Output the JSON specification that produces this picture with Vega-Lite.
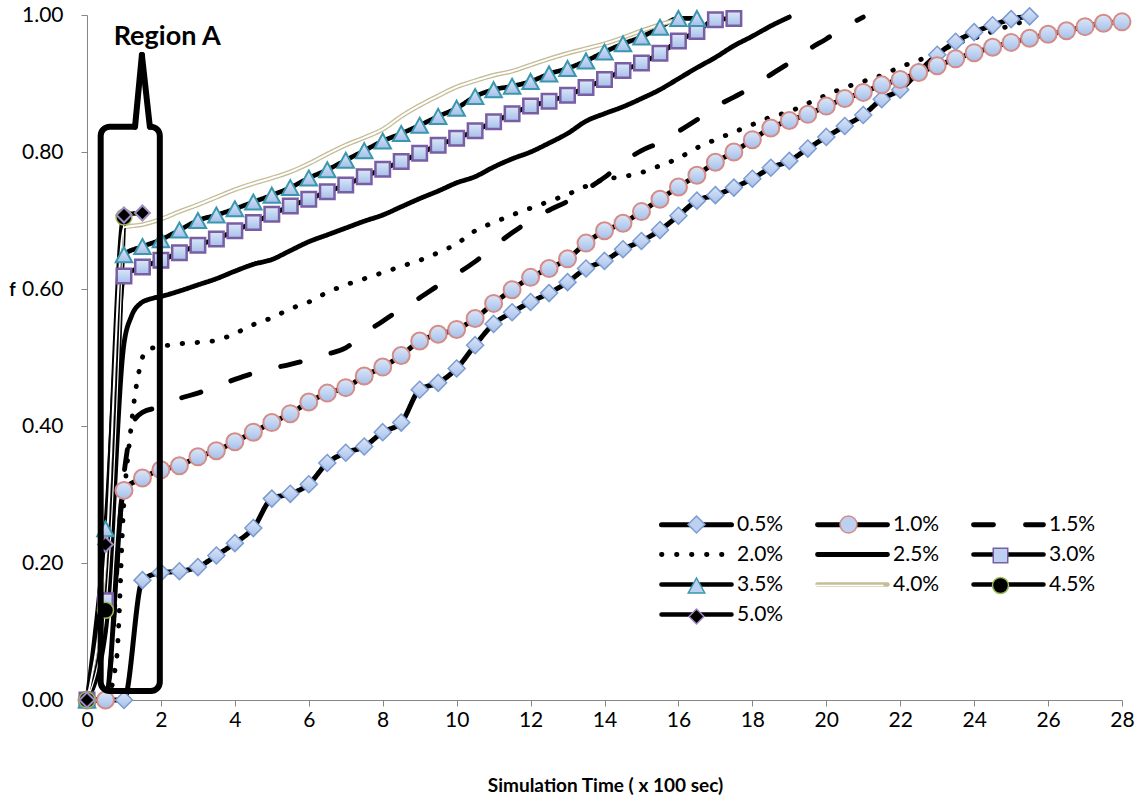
{
  "$schema": "https://vega.github.io/schema/vega-lite/v6.json",
  "width": 1035,
  "height": 685,
  "autosize": {"type": "none"},
  "padding": {"left": 87, "top": 15, "right": 18, "bottom": 99},
  "background": "white",
  "datasets": {
    "curves": [
      {"series":"0.5%","t":0,"f":0},{"series":"0.5%","t":0.5,"f":0},{"series":"0.5%","t":1,"f":0},{"series":"0.5%","t":1.5,"f":0.175},{"series":"0.5%","t":2,"f":0.186},{"series":"0.5%","t":2.5,"f":0.188},{"series":"0.5%","t":3,"f":0.194},{"series":"0.5%","t":3.5,"f":0.211},{"series":"0.5%","t":4,"f":0.229},{"series":"0.5%","t":4.5,"f":0.251},{"series":"0.5%","t":5,"f":0.294},{"series":"0.5%","t":5.5,"f":0.301},{"series":"0.5%","t":6,"f":0.315},{"series":"0.5%","t":6.5,"f":0.346},{"series":"0.5%","t":7,"f":0.361},{"series":"0.5%","t":7.5,"f":0.37},{"series":"0.5%","t":8,"f":0.391},{"series":"0.5%","t":8.5,"f":0.405},{"series":"0.5%","t":9,"f":0.453},{"series":"0.5%","t":9.5,"f":0.463},{"series":"0.5%","t":10,"f":0.484},{"series":"0.5%","t":10.5,"f":0.518},{"series":"0.5%","t":11,"f":0.549},{"series":"0.5%","t":11.5,"f":0.566},{"series":"0.5%","t":12,"f":0.581},{"series":"0.5%","t":12.5,"f":0.594},{"series":"0.5%","t":13,"f":0.61},{"series":"0.5%","t":13.5,"f":0.63},{"series":"0.5%","t":14,"f":0.641},{"series":"0.5%","t":14.5,"f":0.658},{"series":"0.5%","t":15,"f":0.67},{"series":"0.5%","t":15.5,"f":0.686},{"series":"0.5%","t":16,"f":0.707},{"series":"0.5%","t":16.5,"f":0.729},{"series":"0.5%","t":17,"f":0.737},{"series":"0.5%","t":17.5,"f":0.748},{"series":"0.5%","t":18,"f":0.761},{"series":"0.5%","t":18.5,"f":0.777},{"series":"0.5%","t":19,"f":0.787},{"series":"0.5%","t":19.5,"f":0.805},{"series":"0.5%","t":20,"f":0.822},{"series":"0.5%","t":20.5,"f":0.838},{"series":"0.5%","t":21,"f":0.854},{"series":"0.5%","t":21.5,"f":0.877},{"series":"0.5%","t":22,"f":0.891},{"series":"0.5%","t":22.5,"f":0.917},{"series":"0.5%","t":23,"f":0.942},{"series":"0.5%","t":23.5,"f":0.961},{"series":"0.5%","t":24,"f":0.975},{"series":"0.5%","t":24.5,"f":0.985},{"series":"0.5%","t":25,"f":0.994},{"series":"0.5%","t":25.5,"f":0.998},
      {"series":"1.0%","t":0,"f":0},{"series":"1.0%","t":0.5,"f":0},{"series":"1.0%","t":1,"f":0.306},{"series":"1.0%","t":1.5,"f":0.324},{"series":"1.0%","t":2,"f":0.336},{"series":"1.0%","t":2.5,"f":0.342},{"series":"1.0%","t":3,"f":0.355},{"series":"1.0%","t":3.5,"f":0.364},{"series":"1.0%","t":4,"f":0.377},{"series":"1.0%","t":4.5,"f":0.391},{"series":"1.0%","t":5,"f":0.405},{"series":"1.0%","t":5.5,"f":0.418},{"series":"1.0%","t":6,"f":0.435},{"series":"1.0%","t":6.5,"f":0.448},{"series":"1.0%","t":7,"f":0.456},{"series":"1.0%","t":7.5,"f":0.473},{"series":"1.0%","t":8,"f":0.486},{"series":"1.0%","t":8.5,"f":0.503},{"series":"1.0%","t":9,"f":0.524},{"series":"1.0%","t":9.5,"f":0.534},{"series":"1.0%","t":10,"f":0.541},{"series":"1.0%","t":10.5,"f":0.557},{"series":"1.0%","t":11,"f":0.579},{"series":"1.0%","t":11.5,"f":0.599},{"series":"1.0%","t":12,"f":0.617},{"series":"1.0%","t":12.5,"f":0.63},{"series":"1.0%","t":13,"f":0.644},{"series":"1.0%","t":13.5,"f":0.667},{"series":"1.0%","t":14,"f":0.685},{"series":"1.0%","t":14.5,"f":0.696},{"series":"1.0%","t":15,"f":0.713},{"series":"1.0%","t":15.5,"f":0.731},{"series":"1.0%","t":16,"f":0.749},{"series":"1.0%","t":16.5,"f":0.766},{"series":"1.0%","t":17,"f":0.785},{"series":"1.0%","t":17.5,"f":0.8},{"series":"1.0%","t":18,"f":0.818},{"series":"1.0%","t":18.5,"f":0.835},{"series":"1.0%","t":19,"f":0.846},{"series":"1.0%","t":19.5,"f":0.855},{"series":"1.0%","t":20,"f":0.867},{"series":"1.0%","t":20.5,"f":0.878},{"series":"1.0%","t":21,"f":0.887},{"series":"1.0%","t":21.5,"f":0.898},{"series":"1.0%","t":22,"f":0.906},{"series":"1.0%","t":22.5,"f":0.916},{"series":"1.0%","t":23,"f":0.926},{"series":"1.0%","t":23.5,"f":0.936},{"series":"1.0%","t":24,"f":0.945},{"series":"1.0%","t":24.5,"f":0.953},{"series":"1.0%","t":25,"f":0.96},{"series":"1.0%","t":25.5,"f":0.966},{"series":"1.0%","t":26,"f":0.972},{"series":"1.0%","t":26.5,"f":0.977},{"series":"1.0%","t":27,"f":0.983},{"series":"1.0%","t":27.5,"f":0.988},{"series":"1.0%","t":28,"f":0.99},
      {"series":"1.5%","t":0,"f":0},{"series":"1.5%","t":0.5,"f":0},{"series":"1.5%","t":1,"f":0.33},{"series":"1.5%","t":1.25,"f":0.405},{"series":"1.5%","t":1.5,"f":0.42},{"series":"1.5%","t":2,"f":0.428},{"series":"1.5%","t":2.5,"f":0.44},{"series":"1.5%","t":3,"f":0.448},{"series":"1.5%","t":3.5,"f":0.458},{"series":"1.5%","t":4,"f":0.468},{"series":"1.5%","t":4.5,"f":0.477},{"series":"1.5%","t":5,"f":0.484},{"series":"1.5%","t":5.5,"f":0.49},{"series":"1.5%","t":6,"f":0.497},{"series":"1.5%","t":6.5,"f":0.505},{"series":"1.5%","t":7,"f":0.514},{"series":"1.5%","t":7.5,"f":0.535},{"series":"1.5%","t":8,"f":0.553},{"series":"1.5%","t":8.5,"f":0.571},{"series":"1.5%","t":9,"f":0.587},{"series":"1.5%","t":9.5,"f":0.605},{"series":"1.5%","t":10,"f":0.622},{"series":"1.5%","t":10.5,"f":0.64},{"series":"1.5%","t":11,"f":0.662},{"series":"1.5%","t":11.5,"f":0.682},{"series":"1.5%","t":12,"f":0.7},{"series":"1.5%","t":12.5,"f":0.715},{"series":"1.5%","t":13,"f":0.728},{"series":"1.5%","t":13.5,"f":0.745},{"series":"1.5%","t":14,"f":0.763},{"series":"1.5%","t":14.5,"f":0.785},{"series":"1.5%","t":15,"f":0.802},{"series":"1.5%","t":15.5,"f":0.814},{"series":"1.5%","t":16,"f":0.83},{"series":"1.5%","t":16.5,"f":0.847},{"series":"1.5%","t":17,"f":0.866},{"series":"1.5%","t":17.5,"f":0.88},{"series":"1.5%","t":18,"f":0.895},{"series":"1.5%","t":18.5,"f":0.913},{"series":"1.5%","t":19,"f":0.93},{"series":"1.5%","t":19.5,"f":0.949},{"series":"1.5%","t":20,"f":0.965},{"series":"1.5%","t":20.5,"f":0.982},{"series":"1.5%","t":21,"f":0.997},
      {"series":"2.0%","t":0,"f":0},{"series":"2.0%","t":0.5,"f":0},{"series":"2.0%","t":0.8,"f":0.06},{"series":"2.0%","t":1,"f":0.29},{"series":"2.0%","t":1.15,"f":0.377},{"series":"2.0%","t":1.3,"f":0.446},{"series":"2.0%","t":1.45,"f":0.49},{"series":"2.0%","t":1.6,"f":0.511},{"series":"2.0%","t":2,"f":0.516},{"series":"2.0%","t":2.5,"f":0.52},{"series":"2.0%","t":3,"f":0.522},{"series":"2.0%","t":3.5,"f":0.525},{"series":"2.0%","t":4,"f":0.535},{"series":"2.0%","t":4.5,"f":0.548},{"series":"2.0%","t":5,"f":0.558},{"series":"2.0%","t":5.5,"f":0.571},{"series":"2.0%","t":6,"f":0.581},{"series":"2.0%","t":6.5,"f":0.595},{"series":"2.0%","t":7,"f":0.606},{"series":"2.0%","t":7.5,"f":0.615},{"series":"2.0%","t":8,"f":0.624},{"series":"2.0%","t":8.5,"f":0.633},{"series":"2.0%","t":9,"f":0.642},{"series":"2.0%","t":9.5,"f":0.653},{"series":"2.0%","t":10,"f":0.666},{"series":"2.0%","t":10.5,"f":0.685},{"series":"2.0%","t":11,"f":0.697},{"series":"2.0%","t":11.5,"f":0.708},{"series":"2.0%","t":12,"f":0.718},{"series":"2.0%","t":12.5,"f":0.728},{"series":"2.0%","t":13,"f":0.738},{"series":"2.0%","t":13.5,"f":0.75},{"series":"2.0%","t":14,"f":0.76},{"series":"2.0%","t":14.5,"f":0.764},{"series":"2.0%","t":15,"f":0.77},{"series":"2.0%","t":15.5,"f":0.78},{"series":"2.0%","t":16,"f":0.791},{"series":"2.0%","t":16.5,"f":0.806},{"series":"2.0%","t":17,"f":0.818},{"series":"2.0%","t":17.5,"f":0.829},{"series":"2.0%","t":18,"f":0.84},{"series":"2.0%","t":18.5,"f":0.851},{"series":"2.0%","t":19,"f":0.859},{"series":"2.0%","t":19.5,"f":0.871},{"series":"2.0%","t":20,"f":0.883},{"series":"2.0%","t":20.5,"f":0.894},{"series":"2.0%","t":21,"f":0.903},{"series":"2.0%","t":21.5,"f":0.912},{"series":"2.0%","t":22,"f":0.924},{"series":"2.0%","t":22.5,"f":0.934},{"series":"2.0%","t":23,"f":0.945},{"series":"2.0%","t":23.5,"f":0.958},{"series":"2.0%","t":24,"f":0.966},{"series":"2.0%","t":24.5,"f":0.976},{"series":"2.0%","t":25,"f":0.985},{"series":"2.0%","t":25.3,"f":0.99},
      {"series":"2.5%","t":0,"f":0},{"series":"2.5%","t":0.5,"f":0.1},{"series":"2.5%","t":1,"f":0.52},{"series":"2.5%","t":1.2,"f":0.56},{"series":"2.5%","t":1.45,"f":0.579},{"series":"2.5%","t":1.75,"f":0.586},{"series":"2.5%","t":2,"f":0.589},{"series":"2.5%","t":2.5,"f":0.597},{"series":"2.5%","t":3,"f":0.606},{"series":"2.5%","t":3.5,"f":0.615},{"series":"2.5%","t":4,"f":0.626},{"series":"2.5%","t":4.5,"f":0.636},{"series":"2.5%","t":5,"f":0.643},{"series":"2.5%","t":5.5,"f":0.656},{"series":"2.5%","t":6,"f":0.669},{"series":"2.5%","t":6.5,"f":0.679},{"series":"2.5%","t":7,"f":0.689},{"series":"2.5%","t":7.5,"f":0.699},{"series":"2.5%","t":8,"f":0.708},{"series":"2.5%","t":8.5,"f":0.72},{"series":"2.5%","t":9,"f":0.732},{"series":"2.5%","t":9.5,"f":0.743},{"series":"2.5%","t":10,"f":0.755},{"series":"2.5%","t":10.5,"f":0.764},{"series":"2.5%","t":11,"f":0.778},{"series":"2.5%","t":11.5,"f":0.79},{"series":"2.5%","t":12,"f":0.8},{"series":"2.5%","t":12.5,"f":0.813},{"series":"2.5%","t":13,"f":0.827},{"series":"2.5%","t":13.5,"f":0.845},{"series":"2.5%","t":14,"f":0.856},{"series":"2.5%","t":14.5,"f":0.866},{"series":"2.5%","t":15,"f":0.878},{"series":"2.5%","t":15.5,"f":0.891},{"series":"2.5%","t":16,"f":0.907},{"series":"2.5%","t":16.5,"f":0.923},{"series":"2.5%","t":17,"f":0.938},{"series":"2.5%","t":17.5,"f":0.955},{"series":"2.5%","t":18,"f":0.969},{"series":"2.5%","t":18.5,"f":0.984},{"series":"2.5%","t":19,"f":0.997},
      {"series":"3.0%","t":0,"f":0},{"series":"3.0%","t":0.5,"f":0.145},{"series":"3.0%","t":1,"f":0.619},{"series":"3.0%","t":1.5,"f":0.632},{"series":"3.0%","t":2,"f":0.642},{"series":"3.0%","t":2.5,"f":0.653},{"series":"3.0%","t":3,"f":0.664},{"series":"3.0%","t":3.5,"f":0.673},{"series":"3.0%","t":4,"f":0.685},{"series":"3.0%","t":4.5,"f":0.697},{"series":"3.0%","t":5,"f":0.709},{"series":"3.0%","t":5.5,"f":0.721},{"series":"3.0%","t":6,"f":0.731},{"series":"3.0%","t":6.5,"f":0.742},{"series":"3.0%","t":7,"f":0.752},{"series":"3.0%","t":7.5,"f":0.764},{"series":"3.0%","t":8,"f":0.775},{"series":"3.0%","t":8.5,"f":0.786},{"series":"3.0%","t":9,"f":0.798},{"series":"3.0%","t":9.5,"f":0.81},{"series":"3.0%","t":10,"f":0.82},{"series":"3.0%","t":10.5,"f":0.831},{"series":"3.0%","t":11,"f":0.844},{"series":"3.0%","t":11.5,"f":0.856},{"series":"3.0%","t":12,"f":0.867},{"series":"3.0%","t":12.5,"f":0.874},{"series":"3.0%","t":13,"f":0.883},{"series":"3.0%","t":13.5,"f":0.894},{"series":"3.0%","t":14,"f":0.906},{"series":"3.0%","t":14.5,"f":0.919},{"series":"3.0%","t":15,"f":0.93},{"series":"3.0%","t":15.5,"f":0.944},{"series":"3.0%","t":16,"f":0.962},{"series":"3.0%","t":16.5,"f":0.976},{"series":"3.0%","t":17,"f":0.993},{"series":"3.0%","t":17.5,"f":0.995},
      {"series":"3.5%","t":0,"f":0},{"series":"3.5%","t":0.5,"f":0.25},{"series":"3.5%","t":1,"f":0.65},{"series":"3.5%","t":1.5,"f":0.662},{"series":"3.5%","t":2,"f":0.672},{"series":"3.5%","t":2.5,"f":0.686},{"series":"3.5%","t":3,"f":0.7},{"series":"3.5%","t":3.5,"f":0.708},{"series":"3.5%","t":4,"f":0.717},{"series":"3.5%","t":4.5,"f":0.727},{"series":"3.5%","t":5,"f":0.737},{"series":"3.5%","t":5.5,"f":0.748},{"series":"3.5%","t":6,"f":0.762},{"series":"3.5%","t":6.5,"f":0.774},{"series":"3.5%","t":7,"f":0.788},{"series":"3.5%","t":7.5,"f":0.802},{"series":"3.5%","t":8,"f":0.816},{"series":"3.5%","t":8.5,"f":0.827},{"series":"3.5%","t":9,"f":0.839},{"series":"3.5%","t":9.5,"f":0.852},{"series":"3.5%","t":10,"f":0.864},{"series":"3.5%","t":10.5,"f":0.881},{"series":"3.5%","t":11,"f":0.891},{"series":"3.5%","t":11.5,"f":0.896},{"series":"3.5%","t":12,"f":0.903},{"series":"3.5%","t":12.5,"f":0.914},{"series":"3.5%","t":13,"f":0.922},{"series":"3.5%","t":13.5,"f":0.933},{"series":"3.5%","t":14,"f":0.946},{"series":"3.5%","t":14.5,"f":0.958},{"series":"3.5%","t":15,"f":0.968},{"series":"3.5%","t":15.5,"f":0.982},{"series":"3.5%","t":16,"f":0.995},{"series":"3.5%","t":16.5,"f":0.995},
      {"series":"4.0%","t":0,"f":0},{"series":"4.0%","t":0.5,"f":0.2},{"series":"4.0%","t":1,"f":0.69},{"series":"4.0%","t":1.5,"f":0.694},{"series":"4.0%","t":2,"f":0.702},{"series":"4.0%","t":2.5,"f":0.713},{"series":"4.0%","t":3,"f":0.723},{"series":"4.0%","t":3.5,"f":0.734},{"series":"4.0%","t":4,"f":0.745},{"series":"4.0%","t":4.5,"f":0.754},{"series":"4.0%","t":5,"f":0.762},{"series":"4.0%","t":5.5,"f":0.771},{"series":"4.0%","t":6,"f":0.783},{"series":"4.0%","t":6.5,"f":0.797},{"series":"4.0%","t":7,"f":0.81},{"series":"4.0%","t":7.5,"f":0.821},{"series":"4.0%","t":8,"f":0.833},{"series":"4.0%","t":8.5,"f":0.852},{"series":"4.0%","t":9,"f":0.868},{"series":"4.0%","t":9.5,"f":0.882},{"series":"4.0%","t":10,"f":0.895},{"series":"4.0%","t":10.5,"f":0.904},{"series":"4.0%","t":11,"f":0.912},{"series":"4.0%","t":11.5,"f":0.918},{"series":"4.0%","t":12,"f":0.927},{"series":"4.0%","t":12.5,"f":0.936},{"series":"4.0%","t":13,"f":0.944},{"series":"4.0%","t":13.5,"f":0.951},{"series":"4.0%","t":14,"f":0.958},{"series":"4.0%","t":14.5,"f":0.967},{"series":"4.0%","t":15,"f":0.977},{"series":"4.0%","t":15.5,"f":0.986},{"series":"4.0%","t":16,"f":0.993},
      {"series":"4.5%","t":0,"f":0},{"series":"4.5%","t":0.5,"f":0.131},{"series":"4.5%","t":1,"f":0.705},
      {"series":"5.0%","t":0,"f":0},{"series":"5.0%","t":0.5,"f":0.227},{"series":"5.0%","t":1,"f":0.708},{"series":"5.0%","t":1.5,"f":0.711}
    ]
  },
  "data": {"name": "curves"},
  "encoding": {
    "x": {"field": "t", "type": "quantitative", "scale": {"domain": [0, 28], "nice": false, "padding": 0, "zero": false},
      "axis": {"values": [0,2,4,6,8,10,12,14,16,18,20,22,24,26,28], "title": "Simulation Time ( x 100 sec)", "titleX": 518, "titleY": 85, "titleBaseline": "middle", "titleAnchor": null, "titleFontSize": 19}},
    "y": {"field": "f", "type": "quantitative", "scale": {"domain": [0, 1], "nice": false, "padding": 0},
      "axis": {"values": [0,0.2,0.4,0.6,0.8,1], "format": ".2f", "title": "f", "titleAngle": 0, "titleX": -75, "titleY": 275, "titleAlign": "center", "titleBaseline": "middle", "labelPadding": 18, "titleFontSize": 18}}
  },
  "layer": [
    {
      "mark": {"type": "line", "interpolate": "monotone", "strokeCap": "round", "strokeJoin": "round", "strokeDashOffset": 10},
      "encoding": {
        "color": {"field": "series", "type": "nominal",
          "scale": {"range": ["#000000","#000000","#000000","#000000","#000000","#000000","#000000","#c4bd97","#000000","#000000"]},
          "legend": {"title": null, "legendX": 599, "legendY": 499, "direction": "horizontal", "symbolType": "M-7,0H7", "encode": {"symbols": {"update": {"strokeCap": {"value": "round"}}}}}},
        "strokeDash": {"field": "series", "type": "nominal",
          "scale": {"range": [[1,0],[1,0],[20,32],[0.5,14.5],[1,0],[1,0],[1,0],[1,0],[1,0],[1,0]]},
          "legend": {"title": null, "legendX": 599, "legendY": 499, "direction": "horizontal", "symbolType": "M-7,0H7", "encode": {"symbols": {"update": {"strokeCap": {"value": "round"}}}}}},
        "strokeWidth": {"field": "series", "type": "nominal",
          "scale": {"range": [5,4.5,7,7,7,5,5,5.5,3.5,4.5]},
          "legend": {"title": null, "legendX": 599, "legendY": 499, "direction": "horizontal", "symbolType": "M-7,0H7", "encode": {"symbols": {"update": {"strokeCap": {"value": "round"}}}}}}
      }
    },
    {
      "transform": [{"filter": "datum.series == '4.0%'"}],
      "mark": {"type": "line", "interpolate": "monotone", "stroke": "white", "strokeWidth": 2, "strokeCap": "round"},
      "encoding": {}
    },
    {
      "transform": [{"filter": "datum.series == '4.5%'"}],
      "mark": {"type": "line", "interpolate": "monotone", "stroke": "white", "strokeWidth": 1.2, "strokeCap": "round"},
      "encoding": {}
    },
    {
      "transform": [{"filter": "datum.series == '0.5%'"}],
      "mark": {"type": "point", "shape": "M0,-1.7L1.7,0L0,1.7L-1.7,0Z", "size": 100, "filled": true, "opacity": 1,
        "fill": {"gradient": "linear", "x1": 0, "y1": 0, "x2": 0, "y2": 1, "stops": [{"offset": 0, "color": "#dce7f8"}, {"offset": 1, "color": "#a5bfea"}]},
        "stroke": "#7c9bd1", "strokeWidth": 1.5}
    },
    {
      "transform": [{"filter": "datum.series == '1.0%'"}],
      "mark": {"type": "point", "shape": "M1.7,0A1.7,1.7,0,1,1,-1.7,0A1.7,1.7,0,1,1,1.7,0Z", "size": 100, "filled": true, "opacity": 1,
        "fill": {"gradient": "linear", "x1": 0, "y1": 0, "x2": 0, "y2": 1, "stops": [{"offset": 0, "color": "#dce7f8"}, {"offset": 1, "color": "#a5bfea"}]},
        "stroke": "#d58b86", "strokeWidth": 2}
    },
    {
      "transform": [{"filter": "datum.series == '3.0%'"}],
      "mark": {"type": "point", "shape": "M-1.45,-1.45H1.45V1.45H-1.45Z", "size": 100, "filled": true, "opacity": 1,
        "fill": {"gradient": "linear", "x1": 0, "y1": 0, "x2": 0, "y2": 1, "stops": [{"offset": 0, "color": "#dce7f8"}, {"offset": 1, "color": "#a5bfea"}]},
        "stroke": "#7a5ea3", "strokeWidth": 2.5}
    },
    {
      "transform": [{"filter": "datum.series == '3.5%'"}],
      "mark": {"type": "point", "shape": "M0,-1.5L1.65,1.5H-1.65Z", "size": 100, "filled": true, "opacity": 1,
        "fill": {"gradient": "linear", "x1": 0, "y1": 0, "x2": 0, "y2": 1, "stops": [{"offset": 0, "color": "#dce7f8"}, {"offset": 1, "color": "#a5bfea"}]},
        "stroke": "#3a97ad", "strokeWidth": 2}
    },
    {
      "transform": [{"filter": "datum.series == '4.5%'"}],
      "mark": {"type": "point", "shape": "M1.6,0A1.6,1.6,0,1,1,-1.6,0A1.6,1.6,0,1,1,1.6,0Z", "size": 100, "filled": true, "opacity": 1,
        "fill": "#000000", "stroke": "#9bbb59", "strokeWidth": 1.5}
    },
    {
      "transform": [{"filter": "datum.series == '5.0%'"}],
      "mark": {"type": "point", "shape": "M0,-1.5L1.5,0L0,1.5L-1.5,0Z", "size": 100, "filled": true, "opacity": 1,
        "fill": "#000000", "stroke": "#9f8cc0", "strokeWidth": 2}
    },
    {
      "transform": [{"filter": "datum.t < 0"}],
      "mark": {"type": "point", "filled": true, "opacity": 1, "strokeWidth": 2, "size": 100},
      "encoding": {
        "shape": {"field": "series", "type": "nominal",
          "scale": {"domain": ["0.5%","1.0%","1.5%","2.0%","2.5%","3.0%","3.5%","4.0%","4.5%","5.0%"],
            "range": ["M-7,0M17.5,0M0,-1.7L1.7,0L0,1.7L-1.7,0Z","M-7,0M17.5,0M1.7,0A1.7,1.7,0,1,1,-1.7,0A1.7,1.7,0,1,1,1.7,0Z","M-7,0M17.5,0M0,0L0.01,0Z","M-7,0M17.5,0M0,0L0.01,0Z","M-7,0M17.5,0M0,0L0.01,0Z","M-7,0M17.5,0M-1.45,-1.45H1.45V1.45H-1.45Z","M-7,0M17.5,0M0,-1.5L1.65,1.5H-1.65Z","M17.5,0M-7,-0.14H7V0.14H-7Z","M-7,0M17.5,0M1.6,0A1.6,1.6,0,1,1,-1.6,0A1.6,1.6,0,1,1,1.6,0Z","M-7,0M17.5,0M0,-1.5L1.5,0L0,1.5L-1.5,0Z"]},
          "legend": {"title": null, "legendX": 599, "legendY": 499, "direction": "horizontal", "labelExpr": "''"}},
        "fill": {"field": "series", "type": "nominal",
          "scale": {"domain": ["0.5%","1.0%","1.5%","2.0%","2.5%","3.0%","3.5%","4.0%","4.5%","5.0%"],
            "range": ["#bdd0f1","#bdd0f1","transparent","transparent","transparent","#bdd0f1","#bdd0f1","#ffffff","#000000","#000000"]},
          "legend": {"title": null, "legendX": 599, "legendY": 499, "direction": "horizontal", "labelExpr": "''"}},
        "stroke": {"field": "series", "type": "nominal",
          "scale": {"domain": ["0.5%","1.0%","1.5%","2.0%","2.5%","3.0%","3.5%","4.0%","4.5%","5.0%"],
            "range": ["#7c9bd1","#d58b86","transparent","transparent","transparent","#7a5ea3","#3a97ad","transparent","#9bbb59","#9f8cc0"]},
          "legend": {"title": null, "legendX": 599, "legendY": 499, "direction": "horizontal", "labelExpr": "''"}}
      }
    },
    {
      "transform": [{"filter": "datum.series == '5.0%' && datum.t == 0"}],
      "mark": {"type": "rect", "fill": "white", "fillOpacity": 0, "stroke": "#000000", "strokeWidth": 6, "cornerRadius": 9},
      "encoding": {"x": {"datum": 0.37}, "x2": {"datum": 1.97}, "y": {"datum": 0.013}, "y2": {"datum": 0.837}}
    },
    {
      "transform": [{"filter": "datum.series == '5.0%' && datum.t == 0"}],
      "mark": {"type": "rule", "stroke": "white", "strokeWidth": 8},
      "encoding": {"x": {"datum": 1.34}, "x2": {"datum": 1.66}, "y": {"datum": 0.837}}
    },
    {
      "transform": [{"filter": "datum.series == '5.0%' && datum.t == 0"}],
      "mark": {"type": "rule", "stroke": "#000000", "strokeWidth": 6, "strokeCap": "round"},
      "encoding": {"x": {"datum": 1.3}, "x2": {"datum": 1.485}, "y": {"datum": 0.837}, "y2": {"datum": 0.9416}}
    },
    {
      "transform": [{"filter": "datum.series == '5.0%' && datum.t == 0"}],
      "mark": {"type": "rule", "stroke": "#000000", "strokeWidth": 6, "strokeCap": "round"},
      "encoding": {"x": {"datum": 1.485}, "x2": {"datum": 1.70}, "y": {"datum": 0.9416}, "y2": {"datum": 0.837}}
    },
    {
      "transform": [{"filter": "datum.series == '5.0%' && datum.t == 0"}],
      "mark": {"type": "text", "font": "Lato", "fontSize": 27, "fontWeight": "bold", "color": "#000000", "align": "center", "baseline": "middle"},
      "encoding": {"text": {"value": "Region A"}, "x": {"datum": 2.17}, "y": {"datum": 0.968}}
    }
  ],
  "config": {
    "view": {"stroke": null},
    "font": "Lato",
    "axis": {"grid": false, "labelFlush": false, "domainColor": "#868686", "tickColor": "#868686", "tickSize": 6, "labelFont": "Lato", "labelFontSize": 21, "labelColor": "#000000", "titleFont": "Lato", "titleFontWeight": "bold", "titleFontSize": 15, "titleColor": "#000000", "labelPadding": 3},
    "legend": {"orient": "none", "direction": "horizontal", "columns": 3, "labelFont": "Lato", "labelFontSize": 21, "labelColor": "#000000", "symbolSize": 100, "rowPadding": 8, "columnPadding": 23, "labelOffset": 30, "padding": 0, "gridAlign": "each"}
  }
}
